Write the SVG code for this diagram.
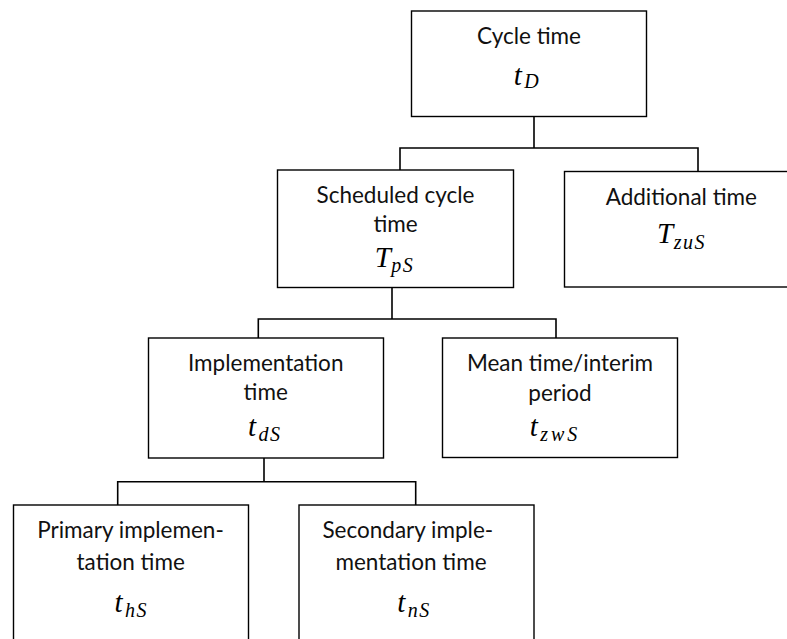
<svg xmlns="http://www.w3.org/2000/svg" width="787" height="639" viewBox="0 0 787 639">
<style>
  .box { fill: #ffffff; stroke: #000000; stroke-width: 1.4; }
  .conn { fill: none; stroke: #000000; stroke-width: 1.6; }
  .lbl { font-family: Lato, "Liberation Sans", sans-serif; font-weight: 400; font-size: 22.5px; fill: #111111; text-anchor: middle; }
  .m { font-family: "Liberation Serif", serif; font-style: italic; font-weight: 400; font-size: 29px; fill: #000000; text-anchor: middle; }
  .s { font-size: 20px; letter-spacing: 1.5px; }
</style>
<rect width="787" height="639" fill="#ffffff"/>
<g id="connectors">
  <path class="conn" d="M534,116.5 V148 M400,170 V148 H698 V171.5"/>
  <path class="conn" d="M392,287.5 V319 M258.3,338 V319 H556 V338"/>
  <path class="conn" d="M264,458 V481.7 M117.7,505 V481.7 H415.7 V505"/>
</g>
<g id="cycle-time">
  <rect class="box" x="411.5" y="11" width="235" height="105.5"/>
  <text class="lbl" x="529" y="44.3">Cycle time</text>
  <text class="m" x="527" y="85">t<tspan class="s" dx="2.5" dy="3">D</tspan></text>
</g>
<g id="scheduled-cycle-time">
  <rect class="box" x="277.5" y="170" width="236" height="117.5"/>
  <text class="lbl" x="395.5" y="203.3">Scheduled cycle</text>
  <text class="lbl" x="395.5" y="232.3">time</text>
  <text class="m" x="394.5" y="266.7">T<tspan class="s" dx="0.5" dy="5">pS</tspan></text>
</g>
<g id="additional-time">
  <rect class="box" x="564.5" y="171.5" width="234" height="115.5"/>
  <text class="lbl" x="681.3" y="205">Additional time</text>
  <text class="m" x="681.5" y="243">T<tspan class="s" dx="0.5" dy="6">zuS</tspan></text>
</g>
<g id="implementation-time">
  <rect class="box" x="148.5" y="338" width="235" height="120"/>
  <text class="lbl" x="265.7" y="370.7">Implementation</text>
  <text class="lbl" x="265.7" y="400">time</text>
  <text class="m" x="264.7" y="435.5">t<tspan class="s" dx="2.5" dy="5">dS</tspan></text>
</g>
<g id="mean-time">
  <rect class="box" x="442.5" y="338" width="235" height="119.5"/>
  <text class="lbl" x="560" y="371">Mean time/interim</text>
  <text class="lbl" x="560" y="400.5">period</text>
  <text class="m" x="555" y="435.5">t<tspan class="s" dx="2.5" dy="5" style="letter-spacing:3px">zwS</tspan></text>
</g>
<g id="primary-implementation-time">
  <rect class="box" x="13.5" y="505" width="235" height="150"/>
  <text class="lbl" x="130.5" y="537.5">Primary implemen-</text>
  <text class="lbl" x="130.7" y="569.5">tation time</text>
  <text class="m" x="131.3" y="611.7">t<tspan class="s" dx="2.5" dy="5">hS</tspan></text>
</g>
<g id="secondary-implementation-time">
  <rect class="box" x="299" y="505" width="235" height="150"/>
  <text class="lbl" x="407.8" y="537.5">Secondary imple-</text>
  <text class="lbl" x="411" y="569.5">mentation time</text>
  <text class="m" x="414" y="611.7">t<tspan class="s" dx="2.5" dy="5">nS</tspan></text>
</g>
</svg>
